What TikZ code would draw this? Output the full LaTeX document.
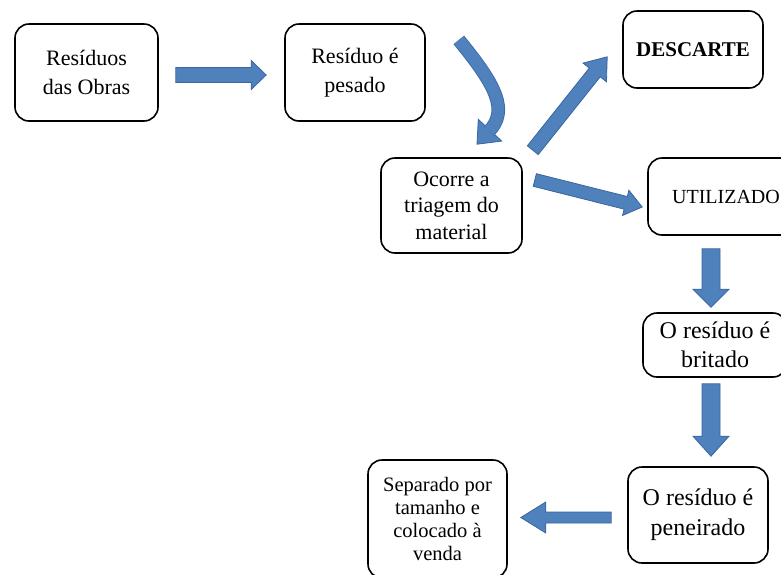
\documentclass[tikz,border=0pt]{standalone}
\usepackage{fontspec}
\setmainfont{Liberation Serif}
\usepackage{tikz}
\usetikzlibrary{calc}

\definecolor{setafill}{HTML}{4F81BD}
\definecolor{setaline}{HTML}{3A65A0}

\tikzset{
  etapa/.style={draw, line width=1.6pt, rounded corners=14pt, align=center,
    inner sep=0pt, font=\fontsize{22}{29}\selectfont},
  seta/.style={fill=setafill, draw=setaline, line width=0.8pt, line join=miter},
}

% seta larga: #1 inicio, #2 ponta, #3 comprimento da ponta,
% #4 meia largura, #5 meia largura da ponta
\newcommand{\setabloco}[5]{
  \coordinate (h) at ($(#2)!#3!(#1)$);
  \draw[seta] ($(#1)!#4!90:(#2)$) -- ($(h)!#4!90:(#2)$) -- ($(h)!#5!90:(#2)$)
    -- (#2) -- ($(h)!#5!-90:(#2)$) -- ($(h)!#4!-90:(#2)$)
    -- ($(#1)!#4!-90:(#2)$) -- cycle;
}

\begin{document}
\begin{tikzpicture}[x=1pt, y=-1pt]

          \useasboundingbox (0,0) rectangle (781,574);
          \clip (0,0) rectangle (781,574);

          % Caixas
          \node[etapa, minimum width=143pt, minimum height=97pt] (obras)
            at (86.5,72.5) {Resíduos\\das Obras};
          \node[etapa, minimum width=140pt, minimum height=97pt] (pesado)
            at (355,72.5) {Resíduo é\\pesado};
          \node[etapa, minimum width=140pt, minimum height=77pt,
            font=\bfseries\fontsize{21}{25}\selectfont] (descarte)
            at (693,49.5) {DESCARTE};
          \node[etapa, minimum width=141pt, minimum height=95pt,
            font=\fontsize{22}{26.5}\selectfont] (ocorre)
            at (451.5,205.5) {Ocorre a\\triagem do\\material};
          \node[etapa, minimum width=156pt, minimum height=77pt,
            font=\fontsize{20}{24}\selectfont] (utilizado)
            at (726,196.5) {UTILIZADO};
          \node[etapa, minimum width=144pt, minimum height=64pt,
            font=\fontsize{24}{29}\selectfont] (britado)
            at (715,345) {O resíduo é\\britado};
          \node[etapa, minimum width=140pt, minimum height=96pt,
            font=\fontsize{24}{30}\selectfont] (peneirado)
            at (698,515) {O resíduo é\\peneirado};
          \node[etapa, minimum width=139pt, minimum height=118pt,
            font=\fontsize{20.5}{23}\selectfont] (separado)
            at (437.5,519) {Separado por\\tamanho e\\colocado à\\venda};

          % Pontas das setas
          \coordinate (a1) at ($(obras.east)+(17,2.5)$);
          \coordinate (b1) at ($(pesado.west)+(-18,2.5)$);
          \coordinate (a2) at ($(pesado.east)+(33,-32.5)$);
          \coordinate (b2) at ($(ocorre.north)+(38.5,-27)$);
          \coordinate (c2) at ($(ocorre.north)+(25.5,-13)$);
          \coordinate (a3) at ($(ocorre.north east)+(10,-7)$);
          \coordinate (b3) at ($(descarte.south west)+(-15,-32)$);
          \coordinate (a4) at ($(ocorre.east)+(12,-25.5)$);
          \coordinate (b4) at ($(utilizado.west)+(-5,10.5)$);
          \coordinate (a5) at ($(utilizado.south)+(-15,13)$);
          \coordinate (b5) at ($(britado.north)+(-4,-5)$);
          \coordinate (a6) at ($(britado.south)+(-4,6)$);
          \coordinate (b6) at ($(peneirado.north)+(13,-10)$);
          \coordinate (a7) at ($(peneirado.west)+(-16,2.5)$);
          \coordinate (b7) at ($(separado.east)+(13,-1.5)$);

          % Setas
          \setabloco{a1}{b1}{15pt}{7.5pt}{14.5pt}
          \draw[seta] ($(b2)!16pt!90:(c2)$) -- (c2) -- ($(b2)!16pt!-90:(c2)$)
            -- cycle;
          \draw[line width=0.8pt, draw=setaline, double=setafill,
            double distance=12pt] (a2) .. controls +(37,45) and +(20,-21)
            .. ($(b2)!1.5pt!(c2)$);
          \setabloco{a3}{b3}{20pt}{7pt}{15pt}
          \setabloco{a4}{b4}{17pt}{6.5pt}{13pt}
          \setabloco{a5}{b5}{18pt}{9pt}{18pt}
          \setabloco{a6}{b6}{20pt}{9pt}{18pt}
          \setabloco{a7}{b7}{25pt}{5.5pt}{15.5pt}
        \end{tikzpicture}
\end{document}
